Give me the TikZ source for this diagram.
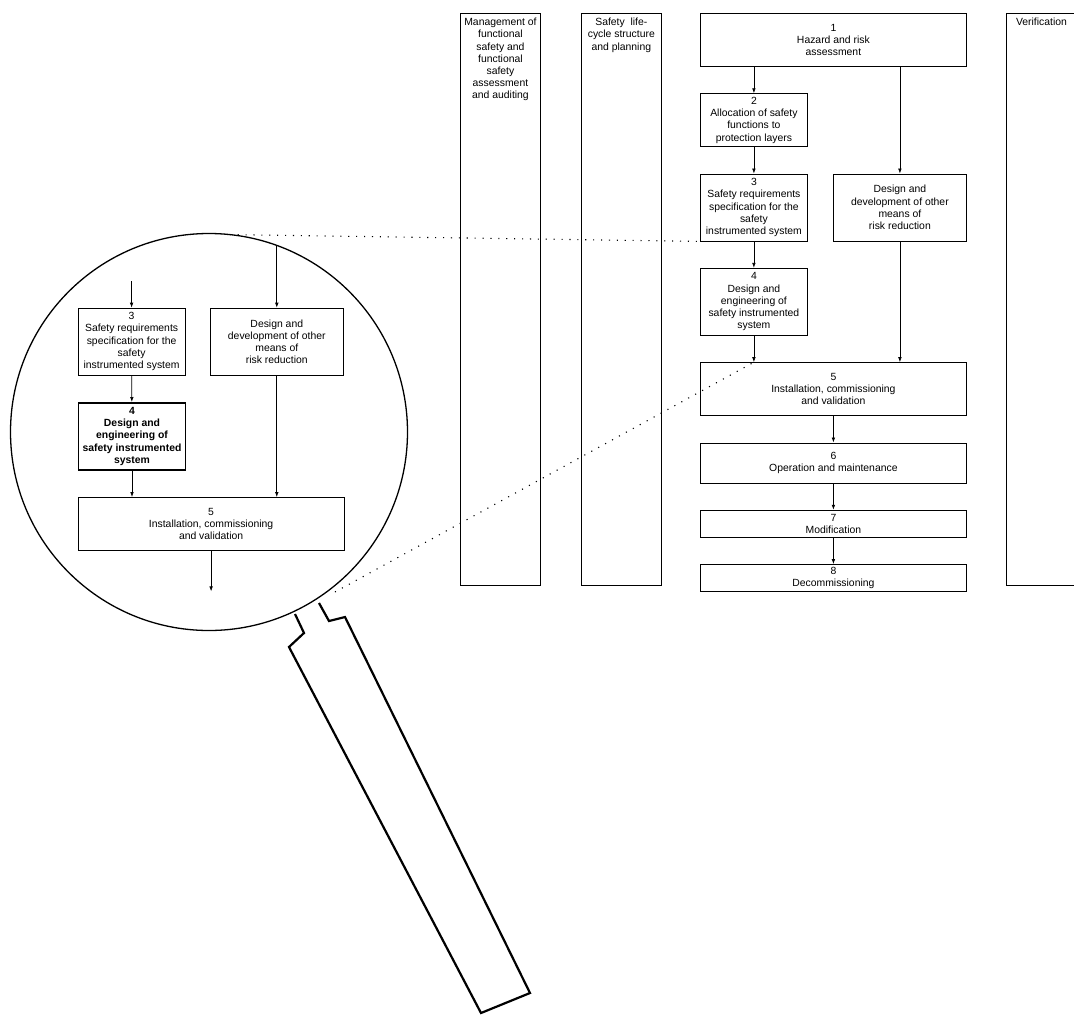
\documentclass[tikz,border=0pt]{standalone}
\usepackage{fontspec}
\setmainfont{Liberation Sans}
\usetikzlibrary{positioning, arrows.meta}
\tikzset{
    stagebox/.style={
        draw=black,
        line width=0.8pt,
        rectangle,
        inner sep=0pt,
        align=center,
        font=\fontsize{10.4}{12.2}\selectfont
    },
    lanebox/.style={
        draw=black,
        line width=0.9pt,
        rectangle,
        inner sep=0pt,
        minimum width=80pt,
        minimum height=572pt,
        anchor=north west
    },
    lanetext/.style={
        inner sep=0pt,
        align=center,
        font=\fontsize{10.4}{12.2}\selectfont
    },
    flowarrow/.style={
        -{Latex[length=5pt, width=3.6pt]},
        line width=0.7pt
    },
    zoomline/.style={
        line width=1.1pt,
        dash pattern=on 1.1pt off 6.8pt
    },
    lensring/.style={
        draw=black,
        circle,
        line width=1.3pt,
        inner sep=0pt,
        outer sep=0pt,
        minimum size=397pt
    },
    handle/.style={
        draw=black,
        line width=2.2pt,
        line join=miter
    }
}

\begin{document}
\begin{tikzpicture}[x=1pt, y=-1pt, node distance=26.5pt]
    % Frame :
    \useasboundingbox (0,0) rectangle (1074,1015);
    \clip (0,0) rectangle (1074,1015);

    % Lanes
    \node (mgmt) [lanebox] at (460,13) {};
    \node (cycle) [
        lanebox,
        right=40pt of mgmt.north east,
        anchor=north west
    ] {};
    \node (verif) [lanebox, minimum width=70pt] at (1006,13) {};
    \node (mgmttext) [lanetext, below=5pt of mgmt.north] {Management of\\functional\\safety and\\functional\\safety\\assessment\\and auditing};
    \node (cycletext) [lanetext, below=5pt of cycle.north] {Safety~ life-\\cycle structure\\and planning};
    \node (veriftext) [lanetext, below=5pt of verif.north] {Verification};

    % Phases
    \node (hazard) [
        stagebox,
        minimum width=266pt,
        minimum height=53pt,
        anchor=north west
    ] at (700,13) {1\\Hazard and risk\\assessment};
    \node (alloc) [
        stagebox,
        minimum width=107pt,
        minimum height=53pt,
        below=of hazard.south west,
        anchor=north west
    ] {2\\Allocation of safety\\functions to\\protection layers};
    \node (specs) [
        stagebox,
        minimum width=107pt,
        minimum height=67pt,
        below=of alloc.south west,
        anchor=north west
    ] {3\\Safety requirements\\specification for the\\safety\\instrumented system};
    \node (other) [
        stagebox,
        minimum width=133pt,
        minimum height=67pt,
        anchor=north east
    ] at (hazard.east |- specs.north) {Design and\\development of other\\means of\\risk reduction};
    \node (design) [
        stagebox,
        minimum width=107pt,
        minimum height=67pt,
        below=of specs.south west,
        anchor=north west
    ] {4\\Design and\\engineering of\\safety instrumented\\system};
    \node (install) [
        stagebox,
        minimum width=266pt,
        minimum height=53pt,
        below=of design.south west,
        anchor=north west
    ] {5\\Installation, commissioning\\and validation};
    \node (operate) [
        stagebox,
        minimum width=266pt,
        minimum height=40pt,
        below=of install.south west,
        anchor=north west
    ] {6\\Operation and maintenance};
    \node (modify) [
        stagebox,
        minimum width=266pt,
        minimum height=27pt,
        below=of operate.south west,
        anchor=north west
    ] {7\\Modification};
    \node (decom) [
        stagebox,
        minimum width=266pt,
        minimum height=27pt,
        below=of modify.south west,
        anchor=north west
    ] {8\\Decommissioning};

    % Flow
    \path [flowarrow]
        (hazard.south -| alloc.north) edge (alloc)
        (hazard.south -| other.north) edge (other)
        (alloc) edge (specs)
        (specs) edge (design)
        (design) edge (design.south |- install.north)
        (other) edge (other.south |- install.north)
        (install) edge (operate)
        (operate) edge (modify)
        (modify) edge (decom)
    ;

    % Zoomed phases
    \coordinate (lenscentre) at (209,432);
    \begin{scope}
        \clip (lenscentre) circle [radius=198.5pt];
        \begin{scope}[shift={(-622.3,135.7)}]
            \node (zspecs) [
                stagebox,
                minimum width=107pt,
                minimum height=67pt,
                anchor=north west
            ] at (700,172) {3\\Safety requirements\\specification for the\\safety\\instrumented system};
            \node (zother) [
                stagebox,
                minimum width=133pt,
                minimum height=67pt,
                anchor=north east
            ] at (966,172) {Design and\\development of other\\means of\\risk reduction};
            \node (zdesign) [
                stagebox,
                line width=1.6pt,
                font=\fontsize{10.4}{12.2}\selectfont\bfseries,
                minimum width=107pt,
                minimum height=67pt,
                below=of zspecs.south west,
                anchor=north west
            ] {4\\Design and\\engineering of\\safety instrumented\\system};
            \node (zinstall) [
                stagebox,
                minimum width=266pt,
                minimum height=53pt,
                below=of zdesign.south west,
                anchor=north west
            ] {5\\Installation, commissioning\\and validation};

            \path (zspecs.north) ++(0,-26.5) coordinate (zspecsin);
            \path (zother.north) ++(0,-90) coordinate (zotherin);
            \path (zinstall.south) ++(0,40.5) coordinate (zinstallout);

            \path [flowarrow]
                (zspecsin) edge (zspecs)
                (zotherin) edge (zother)
                (zspecs) edge (zdesign)
                (zdesign) edge (zdesign.south |- zinstall.north)
                (zother) edge (zother.south |- zinstall.north)
                (zinstall) edge (zinstallout)
            ;
        \end{scope}
    \end{scope}

    % Lens
    \node (lens) [lensring] at (lenscentre) {};
    \coordinate (rimlow) at (335,592);
    \draw [zoomline] (lens.84) -- (specs.south west);
    \draw [zoomline] (rimlow) -- (design.south |- install.north);

    % Handle
    \draw [handle] (295,614) -- (304,633) -- (289,647) -- (481,1013)
        -- (530,993) -- (345,617) -- (329,621) -- (319,603);
\end{tikzpicture}
\end{document}
